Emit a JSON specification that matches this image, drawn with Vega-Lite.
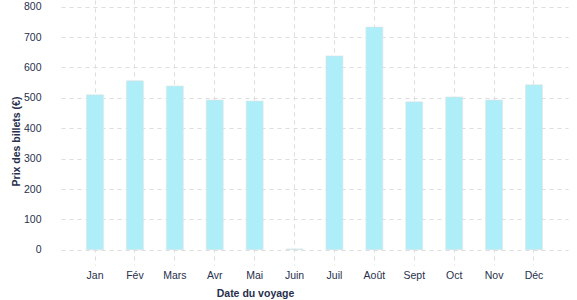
{
  "$schema": "https://vega.github.io/schema/vega-lite/v6.json",
  "autosize": "none",
  "width": 507,
  "height": 265,
  "padding": {"left": 61, "top": 0, "right": 9, "bottom": 35},
  "background": "white",
  "config": {
    "view": {"stroke": null},
    "font": "Liberation Sans",
    "axis": {
      "labelColor": "#27304d",
      "titleColor": "#27304d",
      "labelFont": "Liberation Sans",
      "titleFont": "Liberation Sans",
      "labelFontSize": 10.5,
      "titleFontSize": 10.5,
      "titleFontWeight": "bold",
      "gridColor": "#dddddd",
      "gridDash": [4, 4],
      "gridWidth": 1,
      "domain": false,
      "ticks": false
    }
  },
  "data": {
    "values": [
      {"mois": "Jan", "prix": 510},
      {"mois": "Fév", "prix": 556},
      {"mois": "Mars", "prix": 539},
      {"mois": "Avr", "prix": 493},
      {"mois": "Mai", "prix": 490},
      {"mois": "Juin", "prix": 3},
      {"mois": "Juil", "prix": 638},
      {"mois": "Août", "prix": 733},
      {"mois": "Sept", "prix": 487},
      {"mois": "Oct", "prix": 503},
      {"mois": "Nov", "prix": 493},
      {"mois": "Déc", "prix": 543}
    ]
  },
  "mark": {"type": "bar", "color": "#adeef8", "stroke": "#e2e2e2", "strokeWidth": 0.6},
  "encoding": {
    "x": {
      "field": "mois",
      "type": "nominal",
      "sort": null,
      "scale": {"paddingInner": 0.575, "paddingOuter": 0.64},
      "axis": {
        "title": "Date du voyage",
        "labelAngle": 0,
        "labelPadding": 5,
        "titleX": 194,
        "titleY": 28,
        "titleBaseline": "middle",
        "grid": true
      }
    },
    "y": {
      "field": "prix",
      "type": "quantitative",
      "scale": {"domain": [-50, 822], "nice": false, "zero": false},
      "axis": {
        "title": "Prix des billets (€)",
        "values": [0, 100, 200, 300, 400, 500, 600, 700, 800],
        "labelPadding": 20,
        "titleX": -45,
        "titleY": 141,
        "titleBaseline": "middle",
        "grid": true
      }
    }
  }
}
